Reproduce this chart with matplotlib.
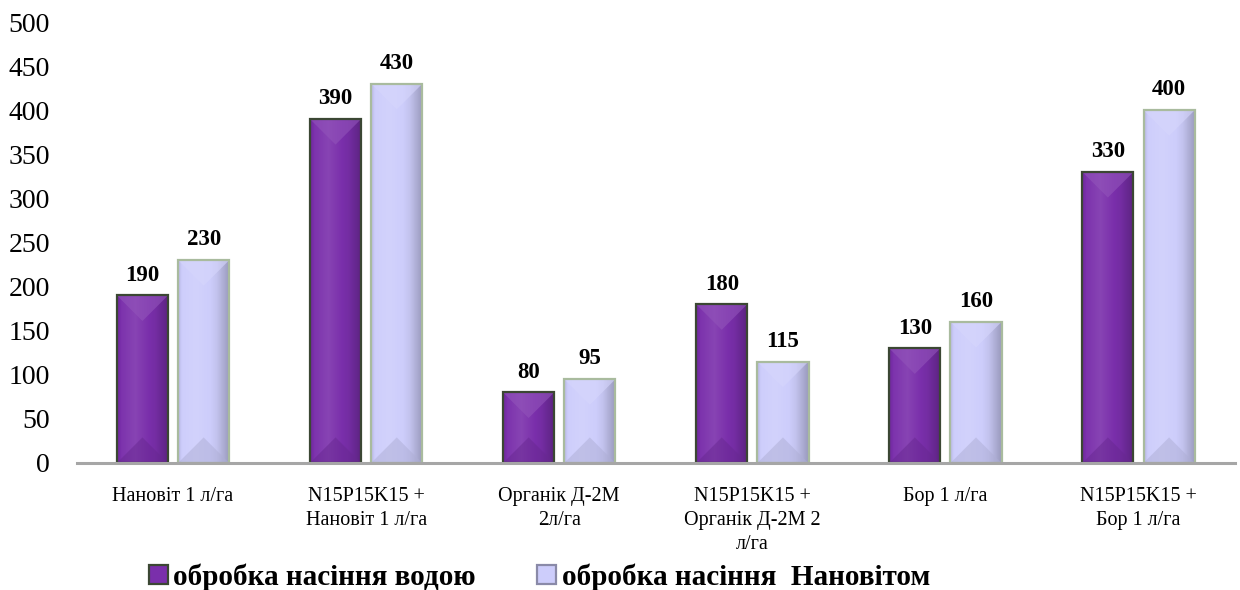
import numpy as np
import matplotlib
matplotlib.use("Agg")
import matplotlib.pyplot as plt
from matplotlib.patches import Polygon, Patch
from matplotlib.colors import to_rgb

plt.rcParams['font.family'] = 'serif'
plt.rcParams['font.serif'] = ['Liberation Serif', 'DejaVu Serif']

categories = [
    "Нановіт 1 л/га",
    "N15P15K15 +\nНановіт 1 л/га",
    "Органік Д-2М\n2л/га",
    "N15P15K15 +\nОрганік Д-2М 2\nл/га",
    "Бор 1 л/га",
    "N15P15K15 +\nБор 1 л/га",
]
water = [190, 390, 80, 180, 130, 330]
nanovit = [230, 430, 95, 115, 160, 400]
series_names = ["обробка насіння водою", "обробка насіння  Нановітом"]
yticks = list(range(0, 501, 50))

face_colors = ["#7a2fab", "#cdcdfb"]
edge_colors = ["#3b4733", "#a9bb9e"]

fig = plt.figure(figsize=(12.4, 5.9), dpi=100)
ax = fig.add_axes([0.0617, 0.2153, 0.9343, 0.7474])
ax.set_xlim(-0.5, len(categories) - 0.5)
ax.set_ylim(0, 500)

x = np.arange(len(categories))
bw = 0.265
gap = 0.052
offsets = [-(bw + gap) / 2, (bw + gap) / 2]


def shade(color, f):
    c = np.array(to_rgb(color))
    if f >= 0:
        return tuple(c + (1 - c) * f)
    return tuple(c * (1 + f))


def bevel_bar(rect, color):
    """Horizontal gradient body plus pyramid facets at the top and bottom."""
    x0, y0 = rect.get_x(), rect.get_y()
    w, h = rect.get_width(), rect.get_height()
    x1, y1 = x0 + w, y0 + h
    xc = x0 + w / 2
    t = np.linspace(0, 1, 64)
    prof = np.interp(t, [0, 0.08, 0.35, 0.75, 1.0], [-0.10, 0.02, 0.10, -0.05, -0.25])
    img = np.array([[shade(color, p) for p in prof]])
    im = ax.imshow(img, extent=(x0, x1, y0, y1), aspect='auto',
                   interpolation='bilinear', zorder=2)
    im.set_clip_path(rect)
    # facet depth equals half the bar width, measured in pixels
    to_px = ax.transData
    wpx = to_px.transform((x1, 0))[0] - to_px.transform((x0, 0))[0]
    hpx = to_px.transform((0, 100))[1] - to_px.transform((0, 0))[1]
    d = (wpx / 2) / (hpx / 100)
    top = Polygon([(x0, y1), (x1, y1), (xc, y1 - d)], closed=True,
                  facecolor=shade(color, 0.18), edgecolor='none', alpha=0.6, zorder=3)
    bot = Polygon([(x0, y0), (x1, y0), (xc, y0 + d)], closed=True,
                  facecolor=shade(color, -0.15), edgecolor='none', alpha=0.5, zorder=3)
    ax.add_patch(top)
    ax.add_patch(bot)


for i, (vals, fc, ec) in enumerate(zip([water, nanovit], face_colors, edge_colors)):
    bars = ax.bar(x + offsets[i], vals, width=bw, color=fc, edgecolor=ec,
                  linewidth=1.6, zorder=4, label=series_names[i])
    for b in bars:
        b.set_facecolor('none')
        bevel_bar(b, fc)
    for b, v in zip(bars, vals):
        ax.annotate(f"{v}", (b.get_x() + b.get_width() / 2, v),
                    xytext=(0, 7), textcoords='offset points',
                    ha='center', va='bottom', fontsize=16.5, fontweight='bold')

for s in ['top', 'right', 'left']:
    ax.spines[s].set_visible(False)
ax.spines['bottom'].set_color('#a6a6a6')
ax.spines['bottom'].set_linewidth(2.2)
ax.spines['bottom'].set_zorder(5)

ax.set_yticks(yticks)
ax.set_yticklabels([str(v) for v in yticks], fontsize=20)
ax.tick_params(axis='y', length=0, pad=19)
ax.set_xticks(x)
ax.set_xticklabels(categories, fontsize=14.5, linespacing=1.38)
ax.tick_params(axis='x', length=0, pad=17)

handles = [Patch(facecolor=face_colors[0], edgecolor=edge_colors[0], linewidth=1.6),
           Patch(facecolor=face_colors[1], edgecolor='#8a8aa8', linewidth=1.6)]
fig.legend(handles, series_names, loc='center', bbox_to_anchor=(0.435, 0.022),
           ncol=2, frameon=False, prop={'size': 21, 'weight': 'bold'},
           handlelength=0.65, handleheight=0.65, handletextpad=0.2, columnspacing=2.1)

fig.savefig("out.png", dpi=100)
